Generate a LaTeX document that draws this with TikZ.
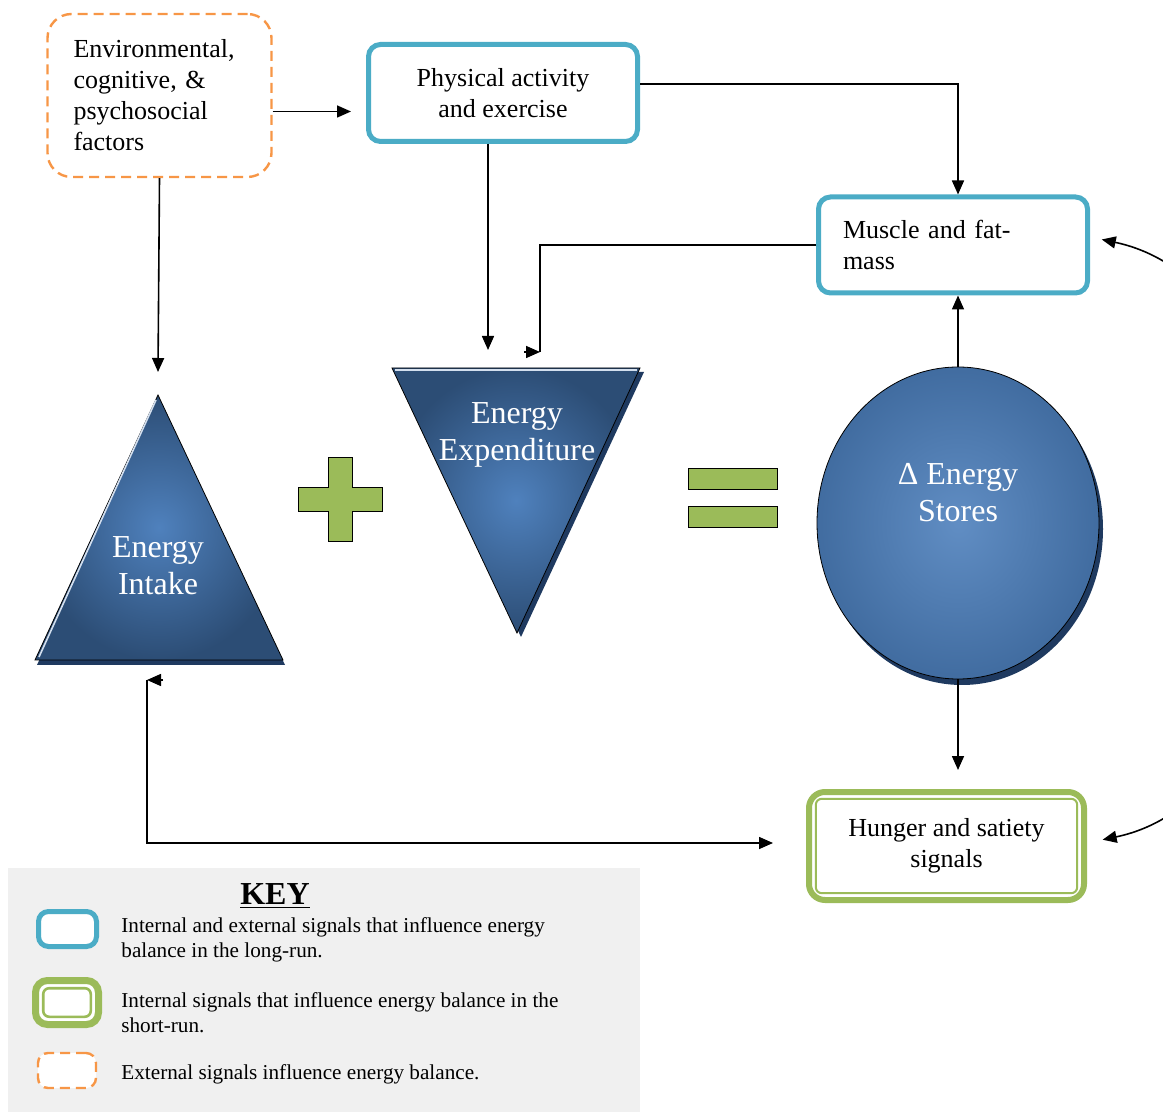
\documentclass[tikz,border=0pt]{standalone}
\usepackage{fontspec}
\setmainfont{Liberation Serif}
\usetikzlibrary{arrows.meta,positioning,shapes.geometric,calc}

\definecolor{longrun}{HTML}{4BACC6}
\definecolor{shortrun}{HTML}{9BBB59}
\definecolor{outside}{HTML}{F79646}
\definecolor{eblue}{HTML}{4F81BD}
\definecolor{edark}{HTML}{2C4D75}
\definecolor{eshadow}{HTML}{1F3A60}
\definecolor{keygray}{HTML}{F0F0F0}

\tikzset{
  boxtext/.style={font=\fontsize{13}{15.5}\selectfont},
  longbox/.style={boxtext, draw=longrun, line width=2.5pt, rounded corners=6pt, fill=white, align=center},
  shortbox/.style={boxtext, draw=shortrun, line width=3pt, rounded corners=8pt, fill=white, align=center},
  outbox/.style={boxtext, draw=outside, line width=1.2pt, dash pattern=on 5pt off 3pt, rounded corners=12pt, fill=white},
  shapetext/.style={text=white, font=\fontsize{16}{18.5}\selectfont, align=center},
  keytext/.style={font=\fontsize{10.6}{12.5}\selectfont, align=left, anchor=west, inner sep=0pt},
  link/.style={line width=0.8pt, -{Triangle[length=7pt,width=6pt]}},
  plain/.style={line width=0.8pt},
  sign/.style={fill=shortrun, draw=black, line width=0.5pt},
}

% thin inner line of the short-run boxes
\newcommand{\shortinner}[3]{%
  \draw[draw=shortrun, line width=#3, rounded corners=3pt]
    ($(#1.north west)+(#2,-#2)$) rectangle ($(#1.south east)+(-#2,#2)$);}

\begin{document}
\begin{tikzpicture}[x=0.5pt,y=-0.5pt]
  \useasboundingbox (0,0) rectangle (1163,1112);
  \clip (0,0) rectangle (1163,1112);

  % Key panel
  \fill[keygray] (8,868) rectangle (640,1112);

  % Signal boxes
  \node[outbox, minimum width=112pt, minimum height=81.5pt, text width=86pt, align=left]
    (env) at (159.5,95.5) {Environmental,\\cognitive, \&\\psychosocial\\factors};
  \node[longbox, minimum width=134.5pt, minimum height=48.5pt]
    (pa) at (503,93) {Physical activity\\and exercise};
  \node[longbox, minimum width=134.5pt, minimum height=48pt, text width=110pt, align=left]
    (mfm) at (953,245) {Muscle and fat-\\mass};
  \node[shortbox, minimum width=137.5pt, minimum height=54pt]
    (hunger) at (946.5,846) {Hunger and satiety\\signals};
  \shortinner{hunger}{4.9pt}{1pt}

  % Energy intake
  \fill[eshadow] (160,400) -- (285,665) -- (37,665) -- cycle;
  \shade[inner color=eblue, outer color=edark] (158,395) -- (283,660) -- (35,660) -- cycle;
  \draw[line width=0.4pt] (158,395) -- (283,660) -- (35,660) -- cycle;
  \draw[white!75!eblue, line width=0.8pt] (156,400) -- (39,657);
  \node[shapetext] (intake) at (158,565.5) {Energy\\Intake};

  % Energy expenditure
  \fill[eshadow] (396,372) -- (644,372) -- (521,637) -- cycle;
  \shade[inner color=eblue, outer color=edark] (392,368) -- (640,368) -- (517,633) -- cycle;
  \draw[line width=0.4pt] (392,368) -- (640,368) -- (517,633) -- cycle;
  \draw[white!75!eblue, line width=0.8pt] (395,370) -- (637,370);
  \node[shapetext] (expend) at (517,435) {Energy\\Expenditure};

  % Energy stores
  \node[ellipse, fill=eshadow, minimum width=141pt, minimum height=156pt, inner sep=0pt]
    (storesshadow) at (962,529) {};
  \node[ellipse, shade, inner color=eblue!90!white, outer color=eblue!60!edark, draw, line width=0.4pt,
    minimum width=141pt, minimum height=156pt, inner sep=0pt] (stores) at (958,523) {};
  \node[shapetext] (storestext) at (958,493) {Δ Energy\\Stores};

  % Plus and equals
  \filldraw[sign] (328,458) -- (352,458) -- (352,488) -- (382,488) -- (382,512) -- (352,512)
    -- (352,542) -- (328,542) -- (328,512) -- (298,512) -- (298,488) -- (328,488) -- cycle;
  \filldraw[sign] (688,469) rectangle (777,490);
  \filldraw[sign] (688,507) rectangle (777,528);

  % Connectors
  \coordinate (intakein) at (158,372);
  \coordinate (expendin) at (488,350);
  \coordinate (expendcorner) at (540,352);
  \coordinate (expendstub) at (524,352);
  \coordinate (intakecorner) at (147,680);
  \coordinate (intakestub) at (163,680);

  \draw[link] (env.south) -- (intakein);
  \draw[link, shorten >=7.5pt] ([yshift=-8pt]env.east) -- ([yshift=-8pt]env.east -| pa.west);
  \draw[link] ([yshift=4.5pt]pa.east) -| ([xshift=2.5pt]mfm.north);
  \draw[link] ([xshift=-7.5pt]pa.south) -- (expendin);
  \draw[plain] (mfm.west) -| (expendcorner);
  \draw[link] (expendstub) -- (expendcorner);
  \draw[link] (stores.north) -- (stores.north |- mfm.south);
  \draw[link, shorten >=9.5pt] (stores.south) -- (stores.south |- hunger.north);
  \draw[link, shorten >=16.5pt] (intakecorner) |- ([yshift=1.5pt]hunger.west);
  \draw[link] (intakestub) -- (intakecorner);
  \draw[line width=0.8pt, {Triangle[length=7pt,width=6pt]}-{Triangle[length=7pt,width=6pt]},
    shorten <=8pt, shorten >=6pt]
    ([yshift=1.5pt]hunger.east) .. controls (1340,790) and (1340,290) .. ([yshift=4pt]mfm.east);

  % Key
  \node[font=\fontsize{16}{19}\selectfont\bfseries] (keytitle) at (275,896) {\underline{KEY}};
  \node[longbox, minimum width=29pt, minimum height=17.5pt, rounded corners=5pt] (keylong) at (67.5,929) {};
  \node[shortbox, line width=3.5pt, minimum width=31.5pt, minimum height=22pt, rounded corners=6pt] (keyshort) at (67,1002.5) {};
  \shortinner{keyshort}{5.6pt}{1.3pt}
  \node[outbox, minimum width=29pt, minimum height=17.5pt, rounded corners=5pt] (keyout) at (67,1070.5) {};
  \node[keytext] (keylongtext) at (121,939.5)
    {Internal and external signals that influence energy\\balance in the long-run.};
  \node[keytext] (keyshorttext) at (121,1013)
    {Internal signals that influence energy balance in the\\short-run.};
  \node[keytext] (keyouttext) at (121,1074) {External signals influence energy balance.};
\end{tikzpicture}
\end{document}
